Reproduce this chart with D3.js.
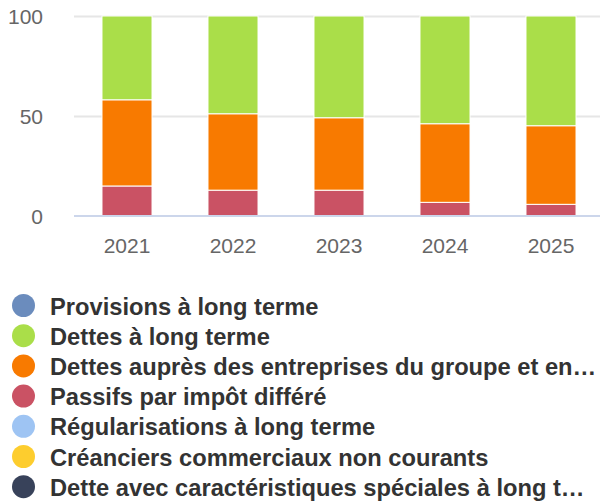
<!DOCTYPE html>
<html>
<head>
<meta charset="utf-8">
<script src="https://cdn.jsdelivr.net/npm/d3@7"></script>
<style>
  html, body { margin: 0; padding: 0; background: #fff; }
  svg { display: block; font-family: "Liberation Sans", Arial, sans-serif; }
</style>
</head>
<body>
<div id="chart"></div>
<script>
// données (parts en %, empilées de bas en haut)
const years = ['2021', '2022', '2023', '2024', '2025'];
// libellés tels qu'affichés dans la légende (déjà tronqués)
const seriesNames = [
  'Provisions à long terme',
  'Dettes à long terme',
  'Dettes auprès des entreprises du groupe et en…',
  'Passifs par impôt différé',
  'Régularisations à long terme',
  'Créanciers commerciaux non courants',
  'Dette avec caractéristiques spéciales à long t…'
];
const seriesColors = ['#6b8cbd', '#aade49', '#f87a00', '#ca5264', '#9ec4f3', '#fdcd2e', '#38425a'];
const provisions   = [0, 0, 0, 0, 0];
const dettesLT     = [42, 49, 51, 54, 55];
const dettesGroupe = [43.2, 38.3, 36.3, 39.4, 39.4];
const impotDiffere = [14.8, 12.7, 12.7, 6.6, 5.6];
const regularis    = [0, 0, 0, 0, 0];
const creanciers   = [0, 0, 0, 0, 0];
const detteSpec    = [0, 0, 0, 0, 0];
const yTicks = [0, 50, 100];

// ordre d'empilement : la dernière série au bas
const stackOrder = [6, 5, 4, 3, 2, 1, 0];
const allValues = [provisions, dettesLT, dettesGroupe, impotDiffere, regularis, creanciers, detteSpec];

const W = 600, H = 503;
const plot = { left: 74, right: 604, top: 16, bottom: 215.5 };

const svg = d3.select('#chart').append('svg')
  .attr('width', W).attr('height', H);

const x = d3.scaleBand().domain(years).range([plot.left, plot.right]).paddingInner(0.528).paddingOuter(0.264);
const y = d3.scaleLinear().domain([0, 100]).range([plot.bottom, plot.top]);

// grille
svg.append('g').selectAll('line')
  .data(yTicks.filter(d => d > 0))
  .join('line')
    .attr('x1', plot.left).attr('x2', W)
    .attr('y1', d => Math.round(y(d)) + 0.5).attr('y2', d => Math.round(y(d)) + 0.5)
    .attr('stroke', '#e6e6e6').attr('stroke-width', 2);

// libellés de l'axe Y
svg.append('g').selectAll('text')
  .data(yTicks)
  .join('text')
    .attr('x', 43).attr('y', d => y(d) + 8)
    .attr('text-anchor', 'end')
    .attr('font-size', 21).attr('fill', '#666')
    .text(d => d);

// barres empilées
const rows = years.map((yr, i) => {
  const o = { year: yr };
  allValues.forEach((arr, s) => { o[s] = arr[i]; });
  return o;
});
const stack = d3.stack().keys(stackOrder)(rows);

svg.append('g').selectAll('g')
  .data(stack)
  .join('g')
    .attr('fill', d => seriesColors[d.key])
  .selectAll('rect')
  .data(d => d.filter(p => p[1] - p[0] > 0))
  .join('rect')
    .attr('x', d => x(d.data.year))
    .attr('width', x.bandwidth())
    .attr('y', d => y(d[1]))
    .attr('height', d => y(d[0]) - y(d[1]))
    .attr('stroke', '#fff').attr('stroke-width', 1);

// ligne de base
svg.append('line')
  .attr('x1', plot.left).attr('x2', W)
  .attr('y1', plot.bottom + 0.5).attr('y2', plot.bottom + 0.5)
  .attr('stroke', '#ccd6eb').attr('stroke-width', 2);

// axe X
svg.append('g').selectAll('text')
  .data(years)
  .join('text')
    .attr('x', d => x(d) + x.bandwidth() / 2)
    .attr('y', 253)
    .attr('text-anchor', 'middle')
    .attr('font-size', 21).attr('fill', '#666')
    .text(d => d);

// légende
const legend = svg.append('g');
seriesNames.forEach((name, i) => {
  const cy = 305.5 + i * 30.2;
  legend.append('circle')
    .attr('cx', 23.5).attr('cy', cy).attr('r', 11.5)
    .attr('fill', seriesColors[i]);
  legend.append('text')
    .attr('x', 50).attr('y', cy + 9)
    .attr('font-size', 23.7).attr('font-weight', 'bold').attr('fill', '#333')
    .text(name);
});
</script>
</body>
</html>
